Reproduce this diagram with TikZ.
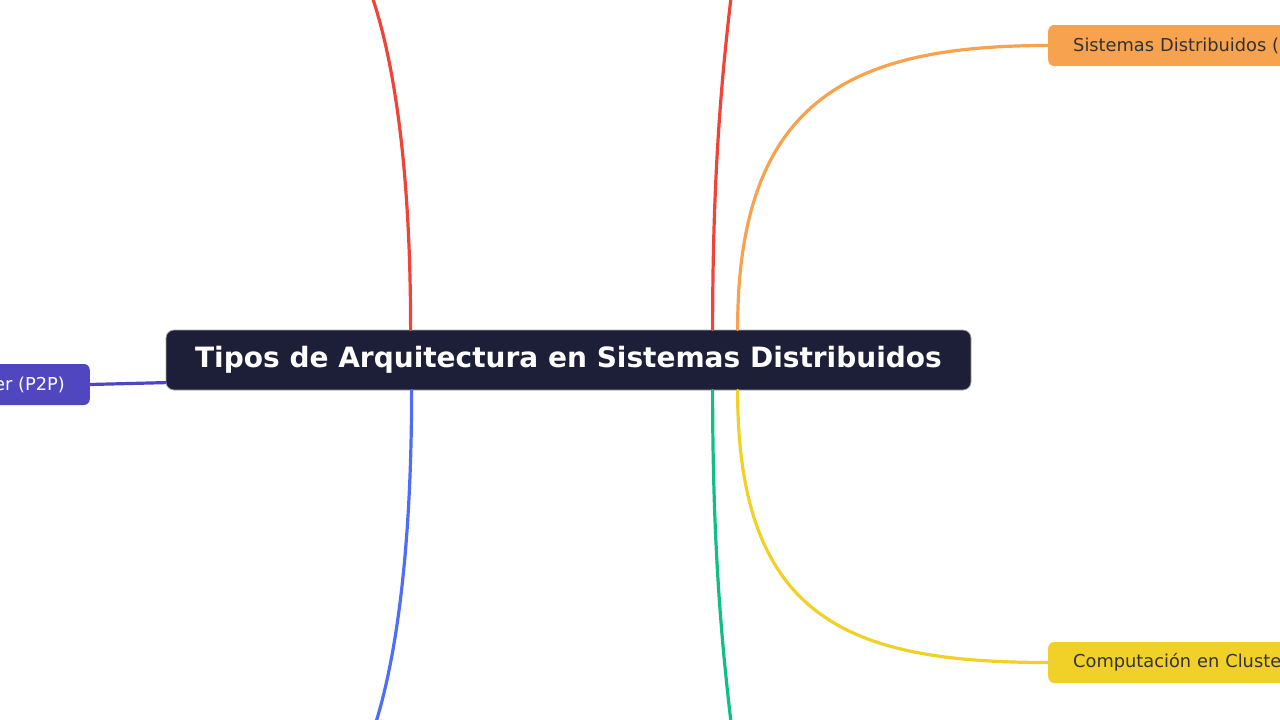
\documentclass[tikz,border=0pt]{standalone}
\usepackage{fontspec}
\setmainfont{DejaVu Sans}
\usetikzlibrary{positioning}
\definecolor{navy}{HTML}{1C1F37}
\definecolor{txtgray}{HTML}{333333}
\definecolor{cred}{HTML}{F04438}
\definecolor{cblue}{HTML}{4F6EF7}
\definecolor{cgreen}{HTML}{12BF82}
\definecolor{corange}{HTML}{F6A24E}
\definecolor{cyellow}{HTML}{F1D128}
\definecolor{cpurple}{HTML}{4F46C0}
\tikzset{
	branch/.style={line width=3.2pt,line cap=round},
	rootbox/.style={draw=gray!70,line width=0.8pt,fill=navy,rounded corners=8pt,text=white,
		minimum width=805pt,minimum height=60pt,inner sep=0pt,
		font=\fontsize{28}{32}\selectfont\bfseries},
	leaf/.style={rounded corners=6pt,minimum height=41pt,inner xsep=25pt,inner ysep=0pt,
		font=\fontsize{17.8}{21}\selectfont}
}

\begin{document}
\begin{tikzpicture}[x=1pt,y=-1pt]
	\useasboundingbox (0,0) rectangle (1280,720);
	\clip (0,0) rectangle (1280,720);

	\node[rootbox] (root) at (568.5,360) {Tipos de Arquitectura en Sistemas Distribuidos};
	\node[leaf,fill=cpurple,text=white,anchor=east] (p2p) at (90,384.5) {er (P2P)};
	\node[leaf,fill=corange,text=txtgray,anchor=west,minimum width=300pt,align=left,text width=250pt] (dist) at (1048,45.5) {Sistemas Distribuidos (};
	\node[leaf,fill=cyellow,text=txtgray,anchor=west,minimum width=300pt,align=left,text width=250pt] (cluster) at (1048,662.5) {Computación en Cluste};

	% branches leaving the screen
	\coordinate (topL) at (366,-20);
	\coordinate (topR) at (733,-20);
	\coordinate (botL) at (370,740);
	\coordinate (botR) at (733,740);

	\draw[branch,cred] ([xshift=245pt]root.north west) .. controls +(0,-180) and (390,40) .. (topL);
	\draw[branch,cred] ([xshift=547pt]root.north west) .. controls +(0,-180) and (725,50) .. (topR);
	\draw[branch,cblue] ([xshift=246pt]root.south west) .. controls +(0,180) and (392,680) .. (botL);
	\draw[branch,cgreen] ([xshift=547pt]root.south west) .. controls +(0,180) and (725,670) .. (botR);
	\draw[branch,corange] ([xshift=572pt]root.north west) .. controls +(0,-230) and (850,45.5) .. (dist.west);
	\draw[branch,cyellow] ([xshift=572pt]root.south west) .. controls +(0,230) and (850,662.5) .. (cluster.west);
	\draw[branch,cpurple] ([yshift=-53pt]root.north west) -- (p2p.east);
\end{tikzpicture}
\end{document}
